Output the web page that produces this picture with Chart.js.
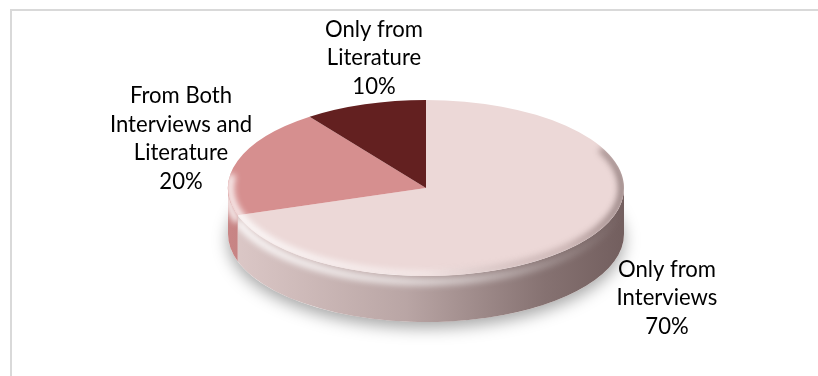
<!DOCTYPE html>
<html>
<head>
<meta charset="utf-8">
<script src="https://cdn.jsdelivr.net/npm/chart.js@4.4.0/dist/chart.umd.min.js"></script>
<style>
  html, body { margin: 0; padding: 0; background: #fff; overflow: hidden; }
  #frame { position: absolute; left: 10px; top: 9px; width: 830px; height: 400px; border: 2px solid #d9d9d9; }
  #wrap { position: absolute; left: 0; top: 0; width: 818px; height: 376px; }
</style>
</head>
<body>
<div id="frame"></div>
<div id="wrap"><canvas id="chart"></canvas></div>
<script>
const categories = ["Only from Interviews", "From Both Interviews and Literature", "Only from Literature"];
const labelLines = [["Only from", "Interviews"], ["From Both", "Interviews and", "Literature"], ["Only from", "Literature"]];
const shares = [70, 20, 10];
const sliceColors = ["#ecd8d7", "#d68f8f", "#632020"];

// flattened pie look
const RX = 198, RY = 88, DEPTH = 46;
// label block centres, relative to the pie centre
const labelOffsets = [[241, 110], [-245, -49], [-52, -130]];
const LINE_H = 28.5;

const pie3d = {
  id: "pie3d",
  beforeDatasetsDraw(chart) {
    const ctx = chart.ctx;
    const meta = chart.getDatasetMeta(0);
    const a = meta.data[0];
    const cx = a.x, cy = a.y, r = a.outerRadius;

    // soft shadow under the disc
    ctx.save();
    ctx.beginPath();
    ctx.ellipse(cx, cy + DEPTH, RX, RY, 0, 0, Math.PI * 2);
    ctx.shadowColor = "rgba(0,0,0,0.35)";
    ctx.shadowBlur = 16;
    ctx.shadowOffsetY = 6;
    ctx.fillStyle = "#fff";
    ctx.fill();
    ctx.restore();

    // visible side walls (front half only)
    meta.data.forEach((arc, i) => {
      const a0 = Math.max(arc.startAngle, 0);
      const a1 = Math.min(arc.endAngle, Math.PI);
      if (a1 <= a0) return;
      ctx.save();
      ctx.beginPath();
      ctx.ellipse(cx, cy, RX, RY, 0, a0, a1);
      ctx.lineTo(cx + RX * Math.cos(a1), cy + DEPTH + RY * Math.sin(a1));
      ctx.ellipse(cx, cy + DEPTH, RX, RY, 0, a1, a0, true);
      ctx.closePath();
      ctx.fillStyle = sliceColors[i];
      ctx.fill();
      ctx.clip();
      const g = ctx.createLinearGradient(cx - RX, 0, cx + RX, 0);
      g.addColorStop(0, "rgba(40,20,20,0.08)");
      g.addColorStop(0.45, "rgba(40,20,20,0.26)");
      g.addColorStop(0.8, "rgba(40,20,20,0.52)");
      g.addColorStop(1, "rgba(40,20,20,0.62)");
      ctx.fillStyle = g;
      ctx.fillRect(cx - RX - 2, cy - RY, RX * 2 + 4, RY * 2 + DEPTH + 4);
      // light band on the upper rim of the wall
      const h = ctx.createLinearGradient(cx - RX, 0, cx + RX, 0);
      h.addColorStop(0, "rgba(255,255,255,0.95)");
      h.addColorStop(0.5, "rgba(255,255,255,0.6)");
      h.addColorStop(1, "rgba(255,255,255,0.0)");
      ctx.filter = "blur(3px)";
      ctx.beginPath();
      ctx.ellipse(cx, cy + 6, RX, RY, 0, a0, a1);
      ctx.strokeStyle = h;
      ctx.lineWidth = 7;
      ctx.stroke();
      ctx.restore();
    });

    // squash the library's pie into the top ellipse
    ctx.save();
    ctx.translate(cx, cy);
    ctx.scale(RX / r, RY / r);
    ctx.translate(-cx, -cy);
  },
  afterDatasetsDraw(chart) {
    const ctx = chart.ctx;
    ctx.restore();
    const meta = chart.getDatasetMeta(0);
    const a = meta.data[0];
    const cx = a.x, cy = a.y;

    // bevel on the top edge
    ctx.save();
    ctx.beginPath();
    ctx.ellipse(cx, cy, RX, RY, 0, 0, Math.PI * 2);
    ctx.clip();
    const g = ctx.createLinearGradient(cx - RX, 0, cx + RX, 0);
    g.addColorStop(0, "rgba(255,255,255,0.95)");
    g.addColorStop(0.5, "rgba(255,255,255,0.4)");
    g.addColorStop(0.85, "rgba(90,60,60,0.25)");
    g.addColorStop(1, "rgba(70,50,50,0.55)");
    ctx.filter = "blur(3px)";
    ctx.beginPath();
    ctx.ellipse(cx, cy, RX - 2, RY - 2, 0, -0.15 * Math.PI, 1.05 * Math.PI);
    ctx.strokeStyle = g;
    ctx.lineWidth = 7;
    ctx.stroke();
    ctx.restore();

    // data labels
    ctx.save();
    ctx.font = "100px Lato";
    const fs = Math.min(26, 142 * 100 / ctx.measureText("Interviews and").width);
    ctx.font = fs.toFixed(1) + "px Lato";
    ctx.fillStyle = "#000";
    ctx.textAlign = "center";
    ctx.textBaseline = "alphabetic";
    const total = shares.reduce((s, v) => s + v, 0);
    meta.data.forEach((arc, i) => {
      const lines = labelLines[i].concat([Math.round(shares[i] / total * 100) + "%"]);
      const bx = cx + labelOffsets[i][0];
      const by = cy + labelOffsets[i][1];
      lines.forEach((t, k) => {
        const y = by + (k - (lines.length - 1) / 2) * LINE_H + 7;
        ctx.fillText(t, bx, y);
      });
    });
    ctx.restore();
  }
};

new Chart(document.getElementById("chart"), {
  type: "pie",
  data: {
    labels: categories,
    datasets: [{
      data: shares,
      backgroundColor: sliceColors,
      borderWidth: 0
    }]
  },
  options: {
    responsive: true,
    maintainAspectRatio: false,
    animation: false,
    events: [],
    layout: { padding: { left: 34 } },
    plugins: {
      legend: { display: false },
      tooltip: { enabled: false }
    }
  },
  plugins: [pie3d]
});
</script>
</body>
</html>
